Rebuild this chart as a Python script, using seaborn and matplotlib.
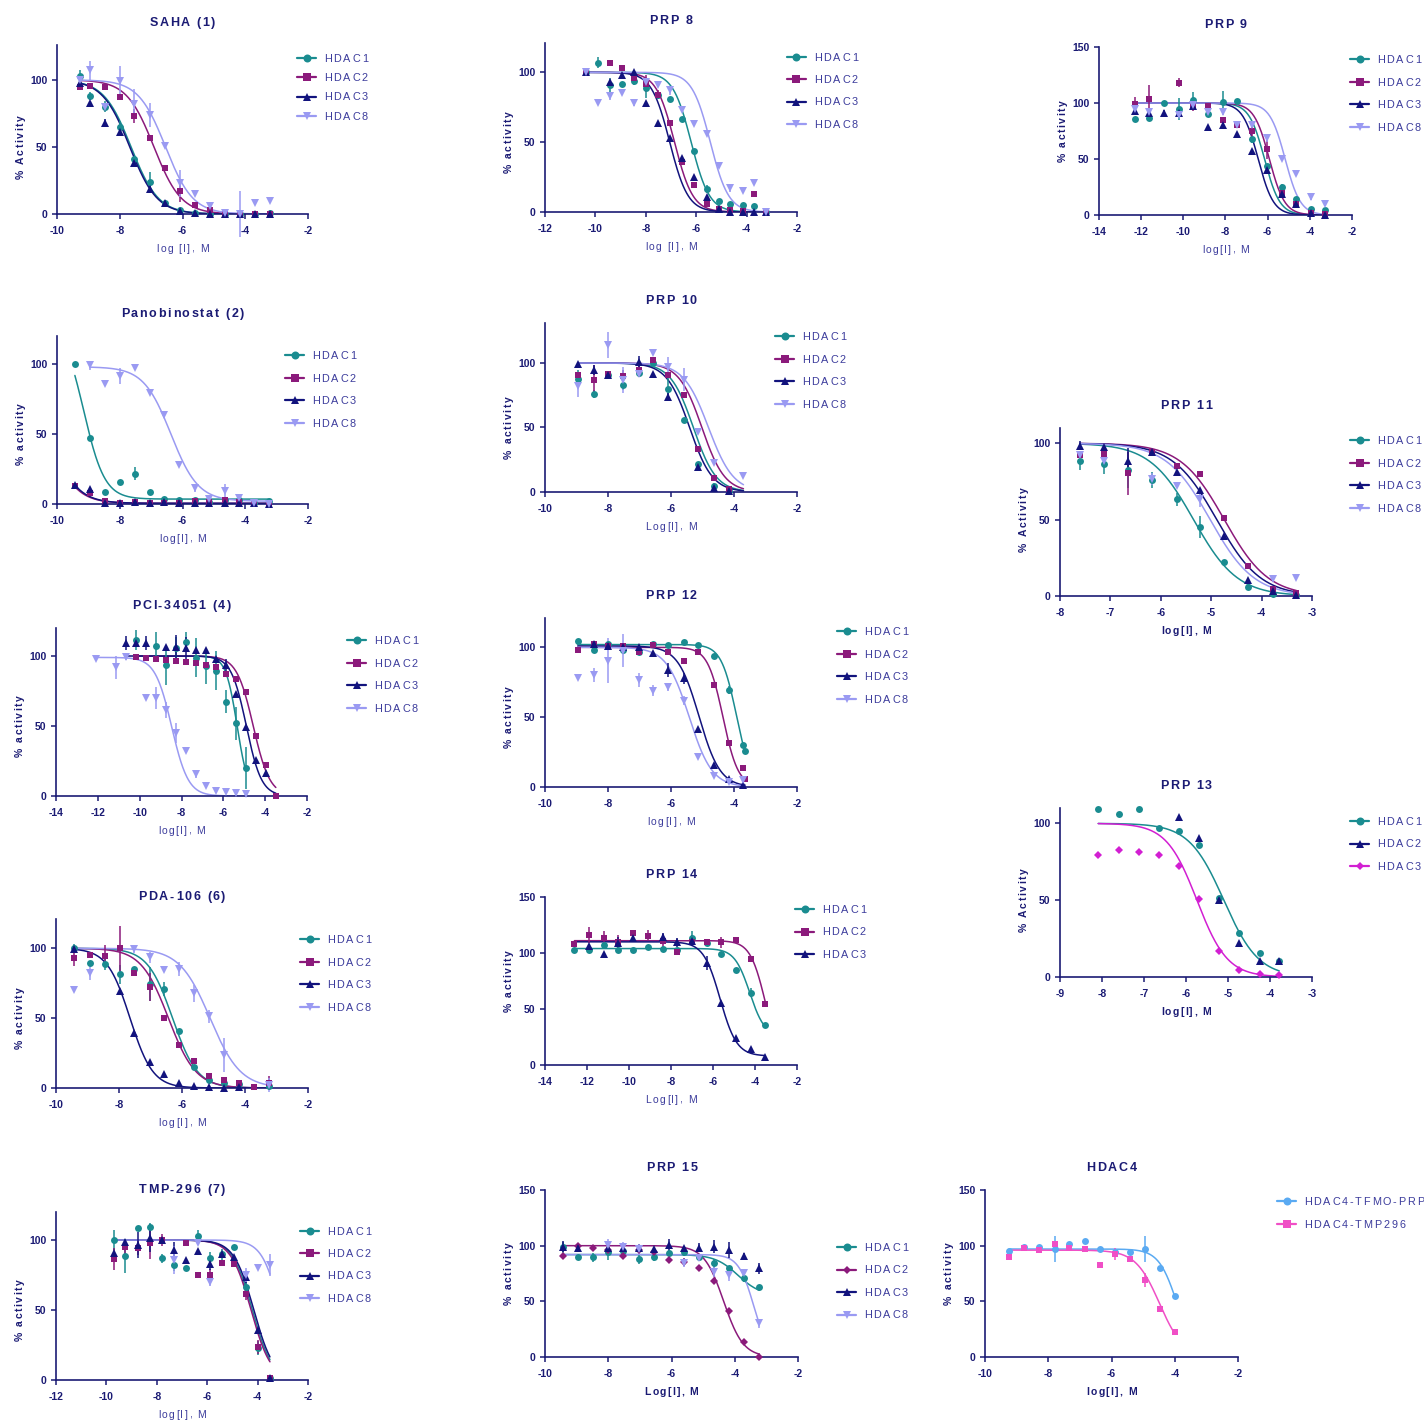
import numpy as np
import matplotlib
matplotlib.use("Agg")
import matplotlib.pyplot as plt
import seaborn as sns
from matplotlib.lines import Line2D
from matplotlib.textpath import TextToPath
from matplotlib.font_manager import FontProperties

nan = np.nan

# ---------------- data ----------------
# fit tuples: (top, bottom, logIC50, hill) + optional (x_start, x_end)

saha_x = [-9.26, -8.96, -8.46, -7.99, -7.53, -7.03, -6.57, -6.09, -5.60, -5.13, -4.64, -4.16, -3.69, -3.20]
saha_y = {
    "HDAC1": [103, 88, 80, 65, 41, 24, 8.5, 3, 0.5, 0, 0, 0, 0, 0.5],
    "HDAC2": [94.5, 95.5, 94.5, 87.5, 73, 57, 34, 17, 6.7, 3, 1, 0.5, 0, 0],
    "HDAC3": [98, 83, 68, 61, 38, 19, 8, 2, 0.5, 0, 0, 0, 0, 0],
    "HDAC8": [100, 107, 80, 99, 82, 74, 51, 23, 15, 6, 1, 0, 8, 10],
}
saha_err = {
    "HDAC1": [4, 3, 4, 4, 0, 7, 0, 0, 0, 0, 0, 0, 0, 0],
    "HDAC2": [0, 0, 0, 0, 5, 0, 0, 8, 0, 0, 0, 0, 0, 0],
    "HDAC3": [0, 0, 3, 2, 0, 2, 0, 0, 0, 0, 0, 0, 0, 0],
    "HDAC8": [0, 7, 0, 11, 11, 9, 0, 10, 0, 0, 0, 17, 0, 0],
}
saha_fit = {"HDAC1": (100, 0, -7.64, 1.0), "HDAC2": (100, 0, -6.91, 1.0),
            "HDAC3": (100, 0, -7.68, 1.0), "HDAC8": (100, 0, -6.54, 1.0)}

prp8_x = [-10.37, -9.91, -9.42, -8.93, -8.45, -7.99, -7.50, -7.03, -6.56, -6.07, -5.58, -5.11, -4.65, -4.16, -3.70, -3.22]
prp8_y = {
    "HDAC1": [100, 107, 91, 91.5, 94, 88.5, 84, 81, 66.6, 44, 16.5, 8, 6, 5, 4.5, 0],
    "HDAC2": [100, nan, 106.5, 103, 96, 92, 84, 64, 36, 19, 6, 2.5, 1.5, 1, 13, 0],
    "HDAC3": [100, nan, 93, 98, 100, 78, 64, 53, 39, 25, 11, 2, 0, 0, 0, 0],
    "HDAC8": [100, 78, 83, 85, 78, 93, 91, 87, 73, 63, 56, 33, 17, 15, 21, 0],
}
prp8_err = {
    "HDAC1": [0, 4, 5, 0, 3, 7, 0, 0, 0, 0, 3, 0, 0, 0, 0, 0],
    "HDAC2": [0, 0, 0, 0, 0, 6, 3, 0, 0, 0, 0, 0, 0, 0, 0, 0],
    "HDAC3": [0] * 16,
    "HDAC8": [0, 0, 3, 0, 2, 0, 0, 3, 0, 0, 0, 0, 3, 0, 0, 0],
}
prp8_fit = {"HDAC1": (100, 0, -6.20, 1.2), "HDAC2": (100, 0, -6.86, 1.2),
            "HDAC3": (100, 0, -7.05, 1.2), "HDAC8": (100, 0, -5.44, 1.2)}

prp9_x = [-12.30, -11.62, -10.93, -10.21, -9.53, -8.83, -8.14, -7.44, -6.73, -6.04, -5.33, -4.65, -3.95, -3.27]
prp9_y = {
    "HDAC1": [85.8, 87, 100, 94.5, 103, 90, 101, 101.4, 67.7, 44, 25, 14, 5, 4.5],
    "HDAC2": [99, 104, nan, 118, 98, 97, 85, 80, 75, 59, 20, 10, 1.5, 0.5],
    "HDAC3": [93, 91, 91, 91, 97, 79, 80, 72, 57, 40, 19, 10, 1.5, 0],
    "HDAC8": [95, 92, nan, 89, 98, 92, 92, 80, 80.5, 68.6, 50, 37, 16, 10],
}
prp9_err = {
    "HDAC1": [0, 0, 0, 10, 7, 0, 10, 0, 3, 0, 3, 0, 0, 0],
    "HDAC2": [6, 12, 0, 4, 5, 3, 0, 0, 9, 9, 0, 0, 0, 0],
    "HDAC3": [0, 3, 3, 3, 0, 0, 0, 0, 0, 0, 0, 0, 0, 0],
    "HDAC8": [0, 0, 0, 0, 0, 0, 3, 0, 0, 3, 0, 0, 3, 0],
}
prp9_fit = {"HDAC1": (100, 0, -6.15, 1.2), "HDAC2": (100, 0, -5.92, 1.2),
            "HDAC3": (100, 0, -6.45, 1.2), "HDAC8": (100, 0, -5.17, 1.2)}

pano_x = [-9.43, -8.95, -8.47, -8.00, -7.52, -7.04, -6.58, -6.10, -5.61, -5.14, -4.66, -4.20, -3.72, -3.23]
pano_y = {
    "HDAC1": [100, 47, 8.3, 15.4, 21.6, 8.3, 3.5, 3, 3, 1.6, 2.6, 2.6, 0.7, 1.9],
    "HDAC2": [12.6, 7.8, 2, 0.7, 1.6, 0.7, 0.5, 0.5, 2.4, 1.6, 3, 1.6, 0, 0],
    "HDAC3": [13.8, 10.7, 0.7, 0.7, 1.2, 0.7, 1.2, 0.5, 0.5, 0.5, 0.5, 0.5, 0.5, 0],
    "HDAC8": [nan, 99, 86, 91.5, 97, 79.6, 63.7, 27.6, 11.4, 3.5, 9, 4.3, 0.7, 0],
}
pano_err = {
    "HDAC1": [0, 0, 0, 0, 4.5, 0, 0, 0, 0, 0, 0, 0, 0, 0],
    "HDAC2": [0] * 14,
    "HDAC3": [0] * 14,
    "HDAC8": [0, 3.5, 0, 5.5, 0, 2, 0, 0, 2.5, 0, 5, 0, 0, 0],
}
pano_fit = {"HDAC1": (130, 3.5, -9.15, 1.3), "HDAC2": (100, 0.5, -10.3, 1.0),
            "HDAC3": (100, 0.5, -10.25, 1.0), "HDAC8": (98, 2, -6.37, 1.0, -8.95, -3.23)}

prp10_x = [-8.96, -8.46, -7.99, -7.51, -7.03, -6.56, -6.08, -5.60, -5.13, -4.65, -4.17, -3.70]
prp10_y = {
    "HDAC1": [87.3, 76.2, 91, 83.2, 92.5, 100, 80, 55.6, 22, 5, 0.5, nan],
    "HDAC2": [90.4, 86.6, 91.7, 89.7, 94.8, 102, 91, 75, 33.6, 11, 2, nan],
    "HDAC3": [99.5, 94.8, 91, nan, 100.8, 91.2, 73.6, nan, 19.4, 3.4, 0.8, nan],
    "HDAC8": [82, nan, 114, 87, 91.7, 107.7, 97, 87, 46.5, 22.5, nan, 12.4],
}
prp10_err = {
    "HDAC1": [7, 3, 3, 4, 0, 0, 8, 0, 0, 2, 0, 0],
    "HDAC2": [0, 12, 0, 5, 6, 0, 0, 0, 0, 0, 0, 0],
    "HDAC3": [0, 4, 0, 0, 5, 2, 3, 0, 0, 0, 0, 0],
    "HDAC8": [8, 0, 10, 10, 0, 0, 8, 9, 0, 0, 0, 0],
}
prp10_fit = {"HDAC1": (100, 0, -5.29, 1.2), "HDAC2": (100, 0, -5.02, 1.2),
             "HDAC3": (100, 0, -5.41, 1.2), "HDAC8": (100, 0, -4.81, 1.1)}

prp11_x = [-7.60, -7.13, -6.66, -6.17, -5.68, -5.22, -4.74, -4.26, -3.78, -3.31]
prp11_y = {
    "HDAC1": [88.4, 86.2, 82.5, 76, 63.2, 45.3, 22.3, 5.9, 1.5, 0.9],
    "HDAC2": [92.3, 93, 80.3, 94, 85, 79.6, 50.8, 19.5, 4.8, 2.2],
    "HDAC3": [98.5, 97.8, 88.6, 94, 81, 69.4, 39.2, 10.3, 3, 0.9],
    "HDAC8": [92, 88.4, nan, 76.6, 72, 63.5, nan, nan, 11.4, 12],
}
prp11_err = {
    "HDAC1": [6, 6, 12, 5, 4, 7, 0, 0, 0, 0],
    "HDAC2": [0, 0, 14, 0, 0, 0, 0, 0, 0, 0],
    "HDAC3": [3, 0, 8, 0, 0, 0, 0, 0, 0, 0],
    "HDAC8": [0, 4, 0, 4, 0, 5, 0, 0, 0, 0],
}
prp11_fit = {"HDAC1": (100, 0, -5.35, 1.0), "HDAC2": (100, 0, -4.74, 1.0),
             "HDAC3": (100, 0, -4.89, 1.0), "HDAC8": (100, 0, -5.02, 1.0)}

pci_x = [-12.08, -11.12, -10.65, -10.17, -9.69, -9.23, -8.74, -8.26, -7.78, -7.31, -6.83, -6.35,
         -5.88, -5.40, -4.92, -4.45, -3.97, -3.49]
pci_y = {
    "HDAC1": [nan, nan, nan, 111.4, nan, 107, 93.6, 105.5, 109.8, 98.8, 92.9, 89.5, 67.4, 51.9, 19.8, nan, nan, nan],
    "HDAC2": [nan, nan, nan, 99, 98.3, 97.9, 97, 96.4, 96, 94.8, 93.6, 92.4, 87, 83.3, 74.5, 43, 22, 0],
    "HDAC3": [nan, nan, 109.5, 109, 109.5, nan, 106.7, 106.7, 105.5, 104.3, 104.3, 97.9, 93.6, 72.9, 49.5, 25.7, 16.2, nan],
    "HDAC8": [97.9, 91.9, 99.5, nan, 69.8, 69.8, 61.4, 44.8, 32, 15.7, 7, 3.6, 2.6, 1.9, 1.7, nan, nan, nan],
}
pci_err = {
    "HDAC1": [0, 0, 0, 7, 0, 10, 14, 8, 7, 14, 13, 14, 8, 12, 15, 0, 0, 0],
    "HDAC2": [0] * 18,
    "HDAC3": [0, 0, 5, 0, 5, 0, 0, 8, 8, 0, 0, 0, 4, 0, 0, 0, 0, 0],
    "HDAC8": [0, 8, 2, 0, 0, 8, 6, 7, 0, 3, 0, 0, 0, 0, 0, 0, 0, 0],
}
pci_fit = {"HDAC1": (100, 0, -5.34, 1.6, -10.17, -4.92), "HDAC2": (100, 0, -4.57, 1.1, -10.17, -3.49),
           "HDAC3": (100, 0, -4.90, 1.2, -10.65, -3.49), "HDAC8": (99, 0, -8.47, 1.1, -12.08, -4.92)}

prp12_x = [-8.96, -8.46, -7.99, -7.51, -7.03, -6.56, -6.08, -5.60, -5.13, -4.65, -4.17, -3.70, -3.64]
prp12_y = {
    "HDAC1": [104.8, 98.3, 102.4, 98.3, 97, 102.4, 102, 104, 102, 94, 69.5, 29.8, 25.5],
    "HDAC2": [98.3, 102.4, 100.7, 100.7, 97, 101.7, 97, 90.5, 96.4, 73, 31.7, 13.8, 5.5],
    "HDAC3": [nan, 102.4, 101, 100.5, 100, 96, 83.8, 77.9, 41.2, 15.5, 6, 1.7, nan],
    "HDAC8": [77.9, 80.2, 90.5, 97.6, 76.7, 69, 71.4, 61.9, 21.4, 7.6, 3.6, 5.2, nan],
}
prp12_err = {
    "HDAC1": [0, 0, 0, 0, 0, 0, 0, 0, 0, 0, 3, 0, 0],
    "HDAC2": [0] * 13,
    "HDAC3": [0, 0, 0, 0, 0, 0, 5, 4, 0, 0, 0, 0, 0],
    "HDAC8": [0, 5, 16, 12, 5, 4, 3, 3, 0, 0, 0, 0, 0],
}
prp12_fit = {"HDAC1": (102, 0, -3.92, 1.8), "HDAC2": (100, 0, -4.35, 1.8),
             "HDAC3": (101, 0, -5.11, 1.3), "HDAC8": (100, 0, -5.42, 1.2)}

prp13_x = [-8.09, -7.59, -7.12, -6.64, -6.16, -5.69, -5.21, -4.73, -4.25, -3.78]
prp13_y = {
    "HDAC1": [109.6, 105.9, 109.2, 97.2, 95, 86.2, 51.3, 28.8, 15.7, 10.3],
    "HDAC2": [nan, nan, nan, nan, 104.4, 90.6, 50.2, 22.3, 10.5, 10.3],
    "HDAC3": [79.7, 82.5, 81.4, 79.7, 72, 50.7, 17, 4.8, 1.7, 1.1],
}
prp13_err = {k: [0] * 10 for k in prp13_y}
prp13_fit = {"HDAC1": (100, 0, -5.10, 1.05), "HDAC3": (100, 0, -5.74, 1.2)}

pda_x = [-9.42, -8.93, -8.46, -7.98, -7.51, -7.03, -6.56, -6.08, -5.61, -5.13, -4.66, -4.20, -3.72, -3.23]
pda_y = {
    "HDAC1": [100, 89.3, 88.6, 81.4, 85, 74.3, 70.7, 40.5, 15, 5.5, 3.6, 2.9, nan, 1.2],
    "HDAC2": [93.3, 95.2, 94.5, 100, 82.1, 72.6, 50, 30.5, 19, 8.8, 5.5, 3.6, 0.5, 3.6],
    "HDAC3": [99.3, nan, nan, 69.8, 39.3, 18.6, 10.2, 3.6, 1.2, 0.5, 0, 0.5, nan, nan],
    "HDAC8": [70.2, 82.6, nan, nan, 99.5, 93.6, 84.5, 85.2, 67.9, 51.2, 23.8, nan, nan, 2.4],
}
pda_err = {
    "HDAC1": [3, 0, 4, 7, 0, 12, 5, 0, 0, 0, 0, 0, 0, 0],
    "HDAC2": [6, 0, 8, 16, 0, 10, 0, 0, 0, 0, 0, 0, 0, 5],
    "HDAC3": [0] * 14,
    "HDAC8": [0, 5, 0, 0, 3, 4, 0, 5, 6, 5, 12, 0, 0, 5],
}
pda_fit = {"HDAC1": (100, 0, -6.30, 1.1), "HDAC2": (100, 0, -6.43, 1.0),
           "HDAC3": (100, 0, -7.65, 1.2), "HDAC8": (100, 0, -5.11, 0.9)}

prp14_x = [-12.6, -11.9, -11.19, -10.5, -9.82, -9.1, -8.39, -7.72, -7.0, -6.29, -5.61, -4.91, -4.19, -3.51]
prp14_y = {
    "HDAC1": [102.3, 102.3, 107.4, 102.9, 102.9, 105, 103.5, 102.3, 113.3, 108.9, 99, 85, 64.7, 35.8],
    "HDAC2": [108, 116.3, 113.3, 109.8, 117.8, 115.4, 111, 100.8, 109.8, 109.8, 109.5, 111.8, 94.5, 54.3],
    "HDAC3": [nan, 105.9, 99, 108.9, 113.3, nan, 114, 109.8, 111, 91, 55.8, 24.5, 14, 7.5],
}
prp14_err = {
    "HDAC1": [0, 0, 0, 3, 0, 0, 0, 0, 6, 0, 0, 0, 4, 0],
    "HDAC2": [0, 7, 6, 6, 0, 5, 6, 0, 0, 0, 5, 0, 0, 0],
    "HDAC3": [0, 0, 0, 5, 0, 0, 4, 4, 5, 6, 0, 0, 0, 0],
}
prp14_fit = {"HDAC1": (104, 25, -4.25, 1.2), "HDAC2": (111, 0, -3.50, 1.2),
             "HDAC3": (110, 8, -5.66, 1.1)}

tmp_x = [-9.71, -9.25, -8.76, -8.28, -7.79, -7.32, -6.83, -6.37, -5.89, -5.43, -4.94, -4.45, -3.99, -3.51]
tmp_y = {
    "HDAC1": [100, 88.6, 108.8, 109.5, 86.9, 82.1, 79.8, 103.1, 87.4, 89.8, 94.8, 66.2, 23.1, 1.2],
    "HDAC2": [86.4, 94.8, 94.5, 98.1, 100, nan, 98.1, 75, 75, 83.8, 82.9, 61.2, 23.8, 1.2],
    "HDAC3": [91, 98.8, 96.4, 101.2, 100, 92.9, 85.7, 92.4, 82.9, 90, 88.1, 73.3, 35.7, 1.2],
    "HDAC8": [nan, nan, nan, nan, nan, 85.7, nan, 97.6, 70.2, nan, nan, 75, 79.8, 82.1],
}
tmp_err = {
    "HDAC1": [7, 12, 0, 3, 3, 4, 0, 4, 4, 4, 0, 4, 5, 0],
    "HDAC2": [8, 5, 5, 12, 4, 0, 0, 0, 4, 0, 0, 4, 5, 0],
    "HDAC3": [0, 0, 9, 10, 0, 6, 0, 0, 4, 0, 0, 4, 0, 0],
    "HDAC8": [0, 0, 0, 0, 0, 10, 0, 0, 3, 0, 0, 5, 0, 8],
}
tmp_fit = {"HDAC1": (100, 0, -4.21, 1.1), "HDAC2": (100, 0, -4.26, 1.1),
           "HDAC3": (100, 0, -4.15, 1.1), "HDAC8": (100, 0, -3.10, 1.2)}

prp15_x = [-9.43, -8.95, -8.47, -8.00, -7.52, -7.04, -6.56, -6.09, -5.61, -5.13, -4.66, -4.18, -3.70, -3.22]
prp15_y = {
    "HDAC1": [98.5, 89.6, 89.6, 94, 95.5, 87.8, 89.6, 93, 94.6, 89.6, 84, 79.7, 70.7, 62.7],
    "HDAC2": [90.7, 99.7, 98.2, 96.1, 90.7, 96.1, 94.6, 87.2, 85.7, 79.7, 68.4, 40.9, 13.4, 0],
    "HDAC3": [99, 98.2, nan, 97.6, 98.2, 98.2, 96.7, 100.6, 98.2, 98.2, 99, 96.1, 90.7, 79.7],
    "HDAC8": [nan, nan, nan, 100.6, 98.5, 96.7, nan, nan, 84.8, 89.3, 76.7, 73.7, 75.8, 30.4],
}
prp15_err = {
    "HDAC1": [5, 0, 4, 7, 5, 4, 3, 0, 4, 0, 4, 0, 3, 0],
    "HDAC2": [0, 0, 0, 0, 0, 0, 0, 3, 3, 0, 0, 0, 0, 0],
    "HDAC3": [5, 0, 0, 0, 0, 0, 0, 5, 0, 4, 6, 7, 3, 5],
    "HDAC8": [0, 0, 0, 5, 5, 5, 0, 0, 4, 0, 5, 5, 0, 4],
}
prp15_fit = {"HDAC1": (92, 55, -3.90, 1.2), "HDAC2": (100, 0, -4.35, 1.4),
             "HDAC8": (92, 0, -3.40, 1.8)}

hdac4_x = [-9.24, -8.76, -8.28, -7.80, -7.33, -6.85, -6.37, -5.90, -5.42, -4.94, -4.47, -3.99]
hdac4_y = {
    "HDAC4-TFMO-PRP": [95.2, 99, 99, 97, 101.2, 104.2, 96.7, 94.6, 94.6, 97, 80.3, 55.2],
    "HDAC4-TMP296": [90.1, 98.2, 96.1, 101.2, 98.2, 97, 82.7, 92.5, 88, 69.3, 43.3, 22.4],
}
hdac4_err = {
    "HDAC4-TFMO-PRP": [0, 0, 0, 12, 0, 0, 0, 0, 0, 12, 0, 0],
    "HDAC4-TMP296": [0, 0, 0, 0, 0, 0, 0, 5, 0, 6, 0, 0],
}
hdac4_fit = {"HDAC4-TFMO-PRP": (97, 0, -3.93, 1.5), "HDAC4-TMP296": (96, 0, -4.48, 1.15)}

# ---------------- styling ----------------
W, H = 1424, 1421
AX = "#1b1b74"
LEG_TXT = "#3c3c9c"
TEAL, PURPLE, NAVY, LAV = "#1a8c90", "#8b1a7b", "#12137d", "#9a9af2"
MAG, SKY, PINK = "#d21fd2", "#5aaaf2", "#f04fc6"
STD = {"HDAC1": (TEAL, "o"), "HDAC2": (PURPLE, "s"), "HDAC3": (NAVY, "^"), "HDAC8": (LAV, "v")}
MS = {"o": 5, "s": 4.6, "^": 5.4, "v": 5.4, "D": 3.6}

sns.set_theme(style="ticks")
plt.rcParams["font.family"] = ["Liberation Sans", "DejaVu Sans"]
plt.rcParams["axes.unicode_minus"] = False

# panel: title, data, box (left, right, y0, top) px, ymax, xlim, xstep, labels, legend (x, y, pitch)
panels = [
    dict(title="SAHA (1)", x=saha_x, y=saha_y, err=saha_err, fit=saha_fit, box=(57, 308, 214, 45),
         ymax=126, xlim=(-10, -2), xstep=2, ylab="% Activity", xlab="log [I], M", xbold=False,
         leg=(297, 58, 19.3)),
    dict(title="PRP 8", x=prp8_x, y=prp8_y, err=prp8_err, fit=prp8_fit, box=(545, 797, 212, 43),
         ymax=121, xlim=(-12, -2), xstep=2, ylab="% activity", xlab="log [I], M", xbold=False,
         leg=(787, 57, 22.3)),
    dict(title="PRP 9", x=prp9_x, y=prp9_y, err=prp9_err, fit=prp9_fit, box=(1099, 1352, 215, 47),
         ymax=150, xlim=(-14, -2), xstep=2, ylab="% activity", xlab="log[I], M", xbold=False,
         leg=(1350, 59, 22.7)),
    dict(title="Panobinostat (2)", x=pano_x, y=pano_y, err=pano_err, fit=pano_fit, box=(57, 308, 504, 336),
         ymax=120, xlim=(-10, -2), xstep=2, ylab="% activity", xlab="log[I], M", xbold=False,
         leg=(285, 355, 22.7)),
    dict(title="PRP 10", x=prp10_x, y=prp10_y, err=prp10_err, fit=prp10_fit, box=(545, 797, 492, 323),
         ymax=131, xlim=(-10, -2), xstep=2, ylab="% activity", xlab="Log[I], M", xbold=False,
         leg=(775, 336, 22.7)),
    dict(title="PRP 11", x=prp11_x, y=prp11_y, err=prp11_err, fit=prp11_fit, box=(1060, 1312, 596, 428),
         ymax=110, xlim=(-8, -3), xstep=1, ylab="% Activity", xlab="log[I], M", xbold=True,
         leg=(1350, 440, 22.7)),
    dict(title="PCI-34051 (4)", x=pci_x, y=pci_y, err=pci_err, fit=pci_fit, box=(56, 307, 796, 628),
         ymax=120, xlim=(-14, -2), xstep=2, ylab="% activity", xlab="log[I], M", xbold=False,
         leg=(347, 640, 22.7)),
    dict(title="PRP 12", x=prp12_x, y=prp12_y, err=prp12_err, fit=prp12_fit, box=(545, 797, 787, 618),
         ymax=121, xlim=(-10, -2), xstep=2, ylab="% activity", xlab="log[I], M", xbold=False,
         leg=(837, 631, 22.7)),
    dict(title="PRP 13", x=prp13_x, y=prp13_y, err=prp13_err, fit=prp13_fit, box=(1060, 1312, 977, 808),
         ymax=110, xlim=(-9, -3), xstep=1, ylab="% Activity", xlab="log[I], M", xbold=True,
         leg=(1350, 821, 22.5),
         style={"HDAC1": (TEAL, "o"), "HDAC2": (NAVY, "^"), "HDAC3": (MAG, "D")}),
    dict(title="PDA-106 (6)", x=pda_x, y=pda_y, err=pda_err, fit=pda_fit, box=(56, 308, 1088, 919),
         ymax=121, xlim=(-10, -2), xstep=2, ylab="% activity", xlab="log[I], M", xbold=False,
         leg=(300, 939, 22.7)),
    dict(title="PRP 14", x=prp14_x, y=prp14_y, err=prp14_err, fit=prp14_fit, box=(545, 797, 1065, 897),
         ymax=150, xlim=(-14, -2), xstep=2, ylab="% activity", xlab="Log[I], M", xbold=False,
         leg=(795, 909, 22.5)),
    dict(title="TMP-296 (7)", x=tmp_x, y=tmp_y, err=tmp_err, fit=tmp_fit, box=(56, 308, 1380, 1212),
         ymax=120, xlim=(-12, -2), xstep=2, ylab="% activity", xlab="log[I], M", xbold=False,
         leg=(300, 1231, 22.3)),
    dict(title="PRP 15", x=prp15_x, y=prp15_y, err=prp15_err, fit=prp15_fit, box=(545, 798, 1357, 1190),
         ymax=150, xlim=(-10, -2), xstep=2, ylab="% activity", xlab="Log[I], M", xbold=True,
         leg=(837, 1247, 22.5),
         style={"HDAC1": (TEAL, "o"), "HDAC2": (PURPLE, "D"), "HDAC3": (NAVY, "^"), "HDAC8": (LAV, "v")}),
    dict(title="HDAC4", x=hdac4_x, y=hdac4_y, err=hdac4_err, fit=hdac4_fit, box=(985, 1238, 1357, 1190),
         ymax=150, xlim=(-10, -2), xstep=2, ylab="% activity", xlab="log[I], M", xbold=True,
         leg=(1277, 1201, 23),
         style={"HDAC4-TFMO-PRP": (SKY, "o"), "HDAC4-TMP296": (PINK, "s")}),
]


def fx(px):
    return px / W


def fy(py):
    return 1 - py / H


def four_pl(x, top, bottom, logic50, hill):
    return bottom + (top - bottom) / (1 + 10 ** ((x - logic50) * hill))


T2P = TextToPath()


def spaced_text(fig, x_px, y_px, s, size, weight, color, track, align="center", vertical=False):
    """Letter-spaced text, one glyph per Text, each anchored at its pen origin."""
    fp = FontProperties(family="Liberation Sans", size=size, weight=weight)
    w0 = T2P.get_text_width_height_descent("||", fp, ismath=False)[0]
    advs = [(T2P.get_text_width_height_descent("|" + c + "|", fp, ismath=False)[0] - w0) * 100 / 72
            for c in s]
    total = sum(advs) + track * (len(s) - 1)
    cap = 0.716 * size * 100 / 72
    pos = -total / 2 if align == "center" else 0.0
    for c, a in zip(s, advs):
        if c != " ":
            if vertical:
                fig.text(fx(x_px + cap / 2), fy(y_px - pos), c, rotation=90, rotation_mode="anchor",
                         ha="left", va="baseline", fontproperties=fp, color=color)
            else:
                fig.text(fx(x_px + pos), fy(y_px + cap / 2), c, rotation_mode="anchor",
                         ha="left", va="baseline", fontproperties=fp, color=color)
        pos += a + track


fig = plt.figure(figsize=(W / 100, H / 100), dpi=100)

for p in panels:
    left, right, y0, top = p["box"]
    ax = fig.add_axes([fx(left), fy(y0), (right - left) / W, (y0 - top) / H])
    styles = p.get("style") or {k: STD[k] for k in p["y"]}
    x = np.array(p["x"], dtype=float)
    for name, (color, marker) in styles.items():
        fit = p["fit"].get(name)
        if fit is not None:
            xs0, xs1 = (fit[4], fit[5]) if len(fit) > 4 else (x.min(), x.max())
            xs = np.linspace(xs0, xs1, 300)
            sns.lineplot(x=xs, y=four_pl(xs, *fit[:4]), ax=ax, color=color, lw=1.1,
                         legend=False, sort=False, zorder=2)
        yv = np.array(p["y"][name], dtype=float)
        ev = np.array(p["err"][name], dtype=float)
        ax.errorbar(x, yv, yerr=ev, fmt=marker, color=color, ms=MS[marker], mew=0,
                    elinewidth=1.1, capsize=2.8, capthick=1.1, clip_on=False, zorder=3)

    ax.set_xlim(*p["xlim"])
    ax.set_ylim(0, p["ymax"])
    ax.set_xticks(np.arange(p["xlim"][0], p["xlim"][1] + 0.01, p["xstep"]))
    yt = [0, 50, 100, 150] if p["ymax"] >= 150 else [0, 50, 100]
    ax.set_yticks(yt)
    ax.set_xlabel("")
    ax.set_ylabel("")
    ax.set_facecolor("none")
    for s in ["top", "right"]:
        ax.spines[s].set_visible(False)
    for s in ["left", "bottom"]:
        ax.spines[s].set_color(AX)
        ax.spines[s].set_linewidth(1.2)
    ax.tick_params(axis="both", direction="out", length=3.5, width=1.1, color=AX,
                   labelcolor=AX, labelsize=7.5)
    ax.tick_params(axis="x", pad=5)
    ax.tick_params(axis="y", pad=3.5)
    for lab in ax.get_xticklabels() + ax.get_yticklabels():
        lab.set_fontweight("bold")

    cx = (left + right) / 2
    spaced_text(fig, cx, top - 23, p["title"], 9, "bold", AX, 1.7)
    ytop_px = y0 - (y0 - top) * yt[-1] / p["ymax"]
    spaced_text(fig, left - 37, (y0 + ytop_px) / 2, p["ylab"], 7.5, "bold", AX, 1.6, vertical=True)
    spaced_text(fig, cx, y0 + 34, p["xlab"], 7.5, "bold" if p["xbold"] else "normal",
                AX if p["xbold"] else LEG_TXT, 1.3)

    lx, ly, pitch = p["leg"]
    for i, (name, (color, marker)) in enumerate(styles.items()):
        yy = ly + i * pitch
        fig.add_artist(Line2D([fx(lx), fx(lx + 19)], [fy(yy), fy(yy)], color=color, lw=1.6,
                              transform=fig.transFigure))
        fig.add_artist(Line2D([fx(lx + 9.5)], [fy(yy)], color=color, marker=marker,
                              ms=MS[marker] * 1.15, mew=0, transform=fig.transFigure))
        spaced_text(fig, lx + 27, yy, name, 7.8, "normal", LEG_TXT, 1.8, align="left")

fig.savefig("out.png", dpi=100)
